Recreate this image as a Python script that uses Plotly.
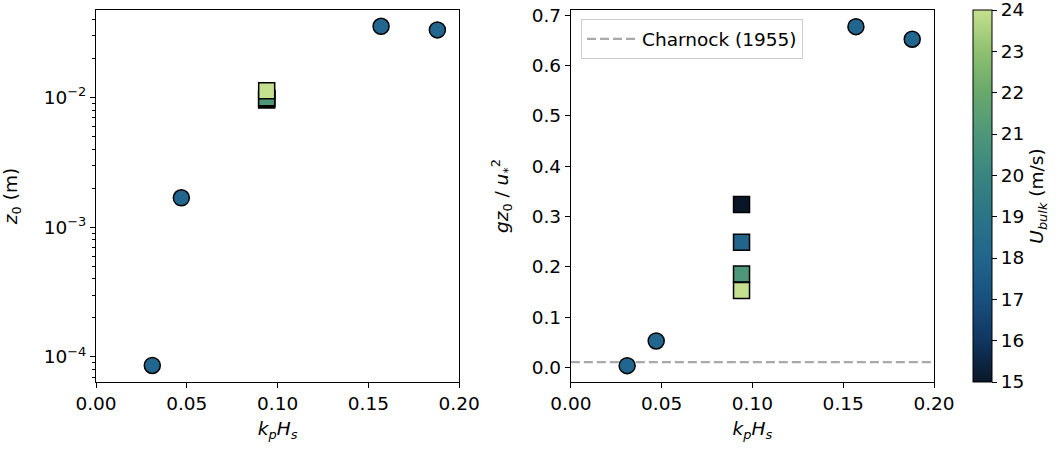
import plotly.graph_objects as go
from plotly.subplots import make_subplots

# ---- data ----
kpHs_circ = [0.031, 0.047, 0.157, 0.188]
z0_circ = [8.6e-5, 1.69e-3, 0.0355, 0.0333]
charn_circ = [0.004, 0.053, 0.677, 0.652]

kpHs_sq = [0.094, 0.094, 0.094, 0.094]
U_sq = [15, 18, 21, 24]
z0_sq = [0.0096, 0.0098, 0.0100, 0.0113]
charn_sq = [0.324, 0.249, 0.186, 0.153]

charnock_const = 0.011
x_line = [0.0, 0.2]

xticks = [0.0, 0.05, 0.10, 0.15, 0.20]
yticks_log = [1e-4, 1e-3, 1e-2]
yticks_log_text = ["10<sup>−4</sup>", "10<sup>−3</sup>", "10<sup>−2</sup>"]
yticks_lin = [0.0, 0.1, 0.2, 0.3, 0.4, 0.5, 0.6, 0.7]
cbar_ticks = [15, 16, 17, 18, 19, 20, 21, 22, 23, 24]

colorscale = [
    [0.0, "#0a1628"], [0.111, "#103660"], [0.222, "#18507e"], [0.333, "#22658c"],
    [0.444, "#2b7486"], [0.556, "#3a8582"], [0.667, "#4e977a"], [0.778, "#68a86c"],
    [0.889, "#8fc070"], [1.0, "#c5e08f"],
]
circ_color = "#20668f"

FONT = "DejaVu Sans"
FS = 18.5

fig = make_subplots(rows=1, cols=2, horizontal_spacing=0.1333)

# left panel
fig.add_trace(go.Scatter(x=kpHs_circ, y=z0_circ, mode="markers", showlegend=False,
                         marker=dict(symbol="circle", size=16, color=circ_color,
                                     line=dict(color="black", width=1.5))), row=1, col=1)
fig.add_trace(go.Scatter(x=kpHs_sq, y=z0_sq, mode="markers", showlegend=False,
                         marker=dict(symbol="square", size=16, color=U_sq, coloraxis="coloraxis",
                                     line=dict(color="black", width=1.5))), row=1, col=1)

# right panel
fig.add_trace(go.Scatter(x=x_line, y=[charnock_const, charnock_const], mode="lines",
                         name="Charnock (1955)",
                         line=dict(color="#a9a9a9", width=2.2, dash="9px,4px")), row=1, col=2)
fig.add_trace(go.Scatter(x=kpHs_circ, y=charn_circ, mode="markers", showlegend=False,
                         marker=dict(symbol="circle", size=16, color=circ_color,
                                     line=dict(color="black", width=1.5))), row=1, col=2)
fig.add_trace(go.Scatter(x=kpHs_sq, y=charn_sq, mode="markers", showlegend=False,
                         marker=dict(symbol="square", size=16, color=U_sq, coloraxis="coloraxis",
                                     line=dict(color="black", width=1.5))), row=1, col=2)

axis_common = dict(showline=True, linecolor="black", linewidth=1, mirror=True,
                   ticks="outside", ticklen=5, tickwidth=1, tickcolor="black",
                   showgrid=False, zeroline=False, automargin=False,
                   tickfont=dict(family=FONT, size=FS, color="black"))

xtitle = "<i>k</i><sub><i>p</i></sub><i>H</i><sub><i>s</i></sub>"
for c in (1, 2):
    fig.update_xaxes(range=[0, 0.2], tickvals=xticks, tickformat=".2f",
                     title=dict(text=xtitle, font=dict(family=FONT, size=FS, color="black"), standoff=8),
                     row=1, col=c, **axis_common)

minor_vals = [m * 10 ** e for e in (-5, -4, -3, -2) for m in range(2, 10)]
fig.update_yaxes(type="log", range=[-4.193, -1.324], tickvals=yticks_log, ticktext=yticks_log_text,
                 minor=dict(tickvals=minor_vals, ticks="outside", ticklen=3, tickcolor="black", showgrid=False),
                 title=dict(text="<i>z</i><sub>0</sub> (m)", font=dict(family=FONT, size=FS, color="black"), standoff=22),
                 row=1, col=1, **axis_common)
fig.update_yaxes(range=[-0.0284, 0.71], tickvals=yticks_lin, tickformat=".1f",
                 title=dict(text="<i>gz</i><sub>0</sub> / <i>u</i><sub>*</sub><sup>2</sup>",
                            font=dict(family=FONT, size=FS, color="black"), standoff=18),
                 row=1, col=2, **axis_common)

fig.update_layout(
    width=1060, height=449,
    margin=dict(l=96, r=126, t=10, b=67, autoexpand=False),
    paper_bgcolor="white", plot_bgcolor="white",
    font=dict(family=FONT, size=FS, color="black"),
    coloraxis=dict(
        cmin=15, cmax=24, colorscale=colorscale,
        colorbar=dict(
            x=(973 - 96) / 838, xanchor="left", xpad=0,
            y=0, yanchor="bottom", len=1, lenmode="fraction", ypad=0,
            thickness=19, outlinewidth=1, outlinecolor="black",
            tickvals=cbar_ticks, ticks="outside", ticklen=5, tickcolor="black",
            ticklabeloverflow="allow",
            tickfont=dict(family=FONT, size=FS, color="black"),
            title=dict(text="<i>U</i><sub><i>bulk</i></sub> (m/s)", side="right",
                       font=dict(family=FONT, size=FS, color="black")),
        ),
    ),
    legend=dict(x=(581 - 96) / 838, y=0.975, xanchor="left", yanchor="top", itemwidth=50,
                xref="paper", bordercolor="#cccccc", borderwidth=1, bgcolor="white",
                font=dict(family=FONT, size=FS, color="black")),
)

fig.write_html("out.html", config={"displayModeBar": False},
               post_script="document.body.style.margin='0';")
